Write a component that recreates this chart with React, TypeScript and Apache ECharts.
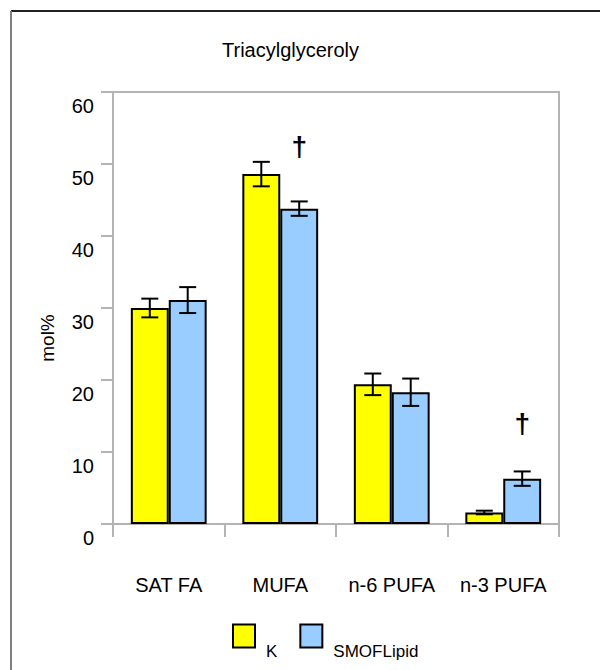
import React, { useEffect, useRef } from "react";
import * as echarts from "echarts";

// Fatty acid classes in plasma triacylglycerols (mol%)
const categories = ["SAT FA", "MUFA", "n-6 PUFA", "n-3 PUFA"];
const seriesNames = ["K", "SMOFLipid"];
const kValues = [30.0, 48.6, 19.4, 1.6];
const kErrors = [1.3, 1.7, 1.5, 0.25];
const smofValues = [31.1, 43.8, 18.3, 6.3];
const smofErrors = [1.8, 1.0, 1.9, 1.0];
// † significance marks above the SMOFLipid bars (y level in mol%)
const daggerLevels: (number | null)[] = [null, 52.4, null, 14.0];
const yTicks = { min: 0, max: 60, interval: 10 };

const FONT = "'Liberation Sans', Arial, Helvetica, sans-serif";
const BAR_RATIO = 0.34; // bar width as share of category band
const AXIS_GRAY = "#b3b3b3";

export default function App() {
  const ref = useRef<HTMLDivElement>(null);

  useEffect(() => {
    if (!ref.current) return;
    const chart = echarts.init(ref.current, undefined, { renderer: "svg" });

    const errorData: number[][] = [];
    kValues.forEach((v, i) => errorData.push([i, v, kErrors[i], -1]));
    smofValues.forEach((v, i) => errorData.push([i, v, smofErrors[i], 1]));

    const daggerData: number[][] = [];
    daggerLevels.forEach((lv, i) => {
      if (lv != null) daggerData.push([i, lv]);
    });

    const barX = (api: any, idx: number, side: number) => {
      const band = api.size([1, 0])[0];
      return api.coord([idx, 0])[0] + (side * band * BAR_RATIO) / 2;
    };

    chart.setOption({
      animation: false,
      backgroundColor: "#fff",
      textStyle: { fontFamily: FONT },
      title: {
        text: "Triacylglyceroly",
        left: 222,
        top: 40,
        padding: 0,
        textStyle: { fontFamily: FONT, fontSize: 20, fontWeight: "normal", color: "#000" },
      },
      legend: {
        data: seriesNames,
        left: 232,
        top: 622,
        padding: 0,
        itemWidth: 22,
        itemHeight: 23,
        itemGap: 22,
        icon: "rect",
        itemStyle: { borderColor: "#000", borderWidth: 2 },
        // label sits low beside each swatch
        formatter: (name: string) => `{sp| }\n{t|${name}}`,
        textStyle: {
          fontFamily: FONT,
          fontSize: 17,
          color: "#000",
          rich: {
            sp: { fontSize: 10, lineHeight: 30 },
            t: { fontFamily: FONT, fontSize: 17, lineHeight: 18, color: "#000", padding: [0, 0, 0, 6] },
          },
        },
      },
      grid: {
        left: 113,
        right: 41,
        top: 92,
        bottom: 146,
        show: true,
        borderColor: AXIS_GRAY,
        borderWidth: 2,
        backgroundColor: "transparent",
      },
      xAxis: {
        type: "category",
        data: categories,
        axisLine: { lineStyle: { color: AXIS_GRAY, width: 2 } },
        axisTick: { show: true, length: 13, alignWithLabel: false, lineStyle: { color: AXIS_GRAY, width: 2 } },
        axisLabel: { interval: 0, fontFamily: FONT, fontSize: 20, color: "#000", margin: 51 },
        splitLine: { show: false },
      },
      yAxis: {
        type: "value",
        min: yTicks.min,
        max: yTicks.max,
        interval: yTicks.interval,
        axisLine: { show: true, lineStyle: { color: AXIS_GRAY, width: 2 } },
        axisTick: { show: true, length: 12, lineStyle: { color: AXIS_GRAY, width: 2 } },
        axisLabel: {
          fontFamily: FONT,
          fontSize: 20,
          color: "#000",
          margin: 19,
          verticalAlign: "top",
          lineHeight: 27,
        },
        splitLine: { show: false },
      },
      graphic: [
        { type: "line", shape: { x1: 11, y1: 11, x2: 600, y2: 11 }, style: { stroke: "#222", lineWidth: 2 }, silent: true },
        { type: "line", shape: { x1: 11, y1: 11, x2: 11, y2: 670 }, style: { stroke: "#808080", lineWidth: 2 }, silent: true },
        {
          type: "text",
          x: 47,
          y: 338,
          rotation: Math.PI / 2,
          style: {
            text: "mol%",
            fontFamily: FONT,
            fontSize: 19,
            fill: "#000",
            align: "center",
            verticalAlign: "middle",
          },
          silent: true,
        },
      ],
      series: [
        {
          name: seriesNames[0],
          type: "bar",
          data: kValues,
          barWidth: `${BAR_RATIO * 100}%`,
          barGap: "0%",
          itemStyle: { color: "#ffff00", borderColor: "#000", borderWidth: 2 },
        },
        {
          name: seriesNames[1],
          type: "bar",
          data: smofValues,
          barWidth: `${BAR_RATIO * 100}%`,
          barGap: "0%",
          itemStyle: { color: "#99ccff", borderColor: "#000", borderWidth: 2 },
        },
        {
          name: "errors",
          type: "custom",
          z: 10,
          data: errorData,
          encode: { x: 0, y: 1 },
          renderItem: (_params: any, api: any) => {
            const idx = api.value(0);
            const v = api.value(1);
            const e = api.value(2);
            const side = api.value(3);
            const x = barX(api, idx, side);
            const top = api.coord([idx, v + e])[1];
            const bot = api.coord([idx, v - e])[1];
            const hw = 8.5;
            const style = { stroke: "#000", lineWidth: 2 };
            return {
              type: "group",
              children: [
                { type: "line", shape: { x1: x, y1: top, x2: x, y2: bot }, style },
                { type: "line", shape: { x1: x - hw, y1: top, x2: x + hw, y2: top }, style },
                { type: "line", shape: { x1: x - hw, y1: bot, x2: x + hw, y2: bot }, style },
              ],
            };
          },
        },
        {
          name: "marks",
          type: "custom",
          z: 10,
          data: daggerData,
          encode: { x: 0, y: 1 },
          renderItem: (_params: any, api: any) => {
            const idx = api.value(0);
            const lv = api.value(1);
            const x = barX(api, idx, 1);
            const y = api.coord([idx, lv])[1];
            return {
              type: "text",
              x,
              y,
              style: {
                text: "†",
                fontFamily: FONT,
                fontSize: 28,
                fontWeight: "bold",
                fill: "#000",
                align: "center",
                verticalAlign: "middle",
              },
            };
          },
        },
      ],
    });

    return () => chart.dispose();
  }, []);

  return (
    <div
      ref={ref}
      style={{ position: "absolute", left: 0, top: 0, width: 600, height: 670 }}
    />
  );
}
